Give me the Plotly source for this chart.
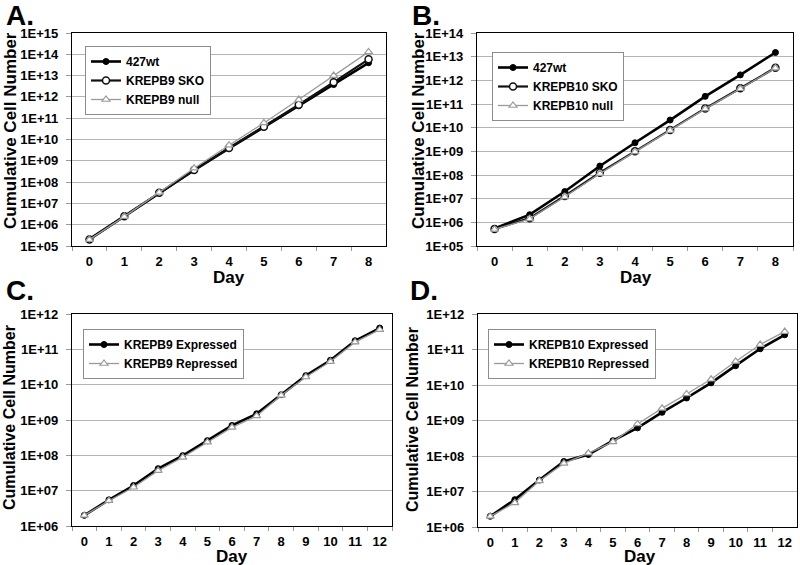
import plotly.graph_objects as go

# ---------------- data ----------------
days_8 = [str(d) for d in range(9)]
days_12 = [str(d) for d in range(13)]

A_wt = [2.1e5, 2.5e6, 3.2e7, 3.6e8, 3.8e9, 3.8e10, 3.8e11, 3.8e12, 4.0e13]
A_sko = [2.0e5, 2.5e6, 3.2e7, 3.7e8, 4.0e9, 4.0e10, 4.3e11, 4.9e12, 5.8e13]
A_null = [2.0e5, 2.4e6, 3.3e7, 4.5e8, 5.4e9, 6.0e10, 7.5e11, 1.0e13, 1.3e14]

B_wt = [5.5e5, 2.1e6, 2.0e7, 2.4e8, 2.3e9, 2.1e10, 2.1e11, 1.7e12, 1.5e13]
B_sko = [5.2e5, 1.5e6, 1.3e7, 1.25e8, 1.0e9, 8.0e9, 6.5e10, 4.6e11, 3.4e12]
B_null = [5.0e5, 1.4e6, 1.2e7, 1.15e8, 9.5e8, 7.6e9, 6.2e10, 4.4e11, 3.3e12]

C_exp = [2.0e6, 5.5e6, 1.4e7, 4.2e7, 9.8e7, 2.6e8, 7.0e8, 1.5e9, 5.2e9, 1.8e10, 4.9e10, 1.75e11, 4.0e11]
C_rep = [2.0e6, 5.2e6, 1.25e7, 3.7e7, 8.8e7, 2.35e8, 6.2e8, 1.3e9, 5.0e9, 1.65e10, 4.5e10, 1.6e11, 3.6e11]

D_exp = [2.0e6, 5.9e6, 2.1e7, 7.0e7, 1.1e8, 2.7e8, 6.2e8, 1.7e9, 4.3e9, 1.15e10, 3.5e10, 1.05e11, 2.6e11]
D_rep = [2.0e6, 4.8e6, 2.0e7, 6.2e7, 1.2e8, 2.5e8, 8.0e8, 2.2e9, 5.6e9, 1.45e10, 4.6e10, 1.38e11, 3.2e11]

A_exponents = list(range(5, 16))
B_exponents = list(range(5, 15))
CD_exponents = list(range(6, 13))

panel_letters = ["A.", "B.", "C.", "D."]
y_title = "Cumulative Cell Number"
x_title = "Day"

# ---------------- layout helpers ----------------
W, H = 800, 565
FONT = "Arial, Liberation Sans, sans-serif"


def px(x):
    return x / W


def py(y):
    return 1 - y / H


fig = go.Figure()

styles = {
    "wt": dict(line=dict(color="#000000", width=2.6),
               marker=dict(symbol="circle", size=6, color="#000000",
                           line=dict(color="#000000", width=1))),
    "sko": dict(line=dict(color="#111111", width=2.2),
                marker=dict(symbol="circle", size=7, color="#ffffff",
                            line=dict(color="#111111", width=1.5))),
    "null": dict(line=dict(color="#9a9a9a", width=1.3),
                 marker=dict(symbol="triangle-up", size=7, color="#ffffff",
                             line=dict(color="#9a9a9a", width=1.2))),
}

panels = [
    ("x", "y", "legend", (72, 386, 33, 246), days_8, A_exponents,
     [("427wt", A_wt, "wt"), ("KREPB9 SKO", A_sko, "sko"), ("KREPB9 null", A_null, "null")],
     (85, 46)),
    ("x2", "y2", "legend2", (477, 793, 33, 246), days_8, B_exponents,
     [("427wt", B_wt, "wt"), ("KREPB10 SKO", B_sko, "sko"), ("KREPB10 null", B_null, "null")],
     (492, 52)),
    ("x3", "y3", "legend3", (72, 392, 314, 526), days_12, CD_exponents,
     [("KREPB9 Expressed", C_exp, "wt"), ("KREPB9 Repressed", C_rep, "null")],
     (83, 329)),
    ("x4", "y4", "legend4", (478, 797, 314, 527), days_12, CD_exponents,
     [("KREPB10 Expressed", D_exp, "wt"), ("KREPB10 Repressed", D_rep, "null")],
     (488, 329)),
]

layout = dict(
    width=W, height=H,
    margin=dict(l=0, r=0, t=0, b=0, autoexpand=False),
    paper_bgcolor="white", plot_bgcolor="white",
    font=dict(family=FONT, size=13, color="#000000", weight="bold"),
    showlegend=True,
    annotations=[],
)

letter_pos = [(4, 33), (410, 33), (4, 308), (408, 308)]
ytitle_pos = [(10, 131), (418, 131), (9, 418), (412, 420)]
xtitle_pos = [(229, 277), (636, 277), (232, 556), (640, 556)]
ytitle_size = [17, 17, 16, 16]

for i, (xa, ya, lg, box, days, exps, traces, lbox) in enumerate(panels):
    x0, x1, y0, y1 = box
    for name, vals, st in traces:
        fig.add_trace(go.Scatter(
            x=days, y=vals, name=name, mode="lines+markers",
            xaxis=xa, yaxis=ya, legend=lg, **styles[st]))
    xkey = "xaxis" if xa == "x" else "xaxis" + xa[1:]
    ykey = "yaxis" if ya == "y" else "yaxis" + ya[1:]
    layout[xkey] = dict(
        domain=[px(x0), px(x1)], anchor=ya, type="category",
        categoryorder="array", categoryarray=days,
        range=[-0.5, len(days) - 0.5], automargin=False,
        tickson="boundaries", ticks="outside", ticklen=4, tickcolor="#9a9a9a",
        ticklabelstandoff=3,
        showgrid=False, showline=True, linecolor="#000000", linewidth=1.3,
        mirror=True, zeroline=False,
        tickfont=dict(family=FONT, size=13, weight="bold"),
    )
    layout[ykey] = dict(
        domain=[py(y1), py(y0)], anchor=xa, type="log",
        range=[exps[0], exps[-1]], automargin=False,
        tickvals=[10 ** e for e in exps],
        ticktext=["1E+%02d" % e for e in exps],
        ticks="outside", ticklen=5, tickcolor="#9a9a9a",
        ticklabelstandoff=5,
        showgrid=True, gridcolor="#b4b4b4", gridwidth=1,
        showline=True, linecolor="#000000", linewidth=1.3, mirror=True,
        zeroline=False,
        tickfont=dict(family=FONT, size=13, weight="bold"),
    )
    layout[lg] = dict(
        x=px(lbox[0]), y=py(lbox[1]), xanchor="left", yanchor="top",
        bgcolor="white", bordercolor="#8c8c8c", borderwidth=1,
        font=dict(family=FONT, size=12, weight="bold"),
        itemwidth=30, tracegroupgap=0,
    )
    lx, ly = letter_pos[i]
    layout["annotations"].append(dict(
        text=panel_letters[i], x=px(lx), y=py(ly), xref="paper", yref="paper",
        xanchor="left", yanchor="bottom", showarrow=False,
        font=dict(family=FONT, size=28, weight="bold")))
    tx, ty = ytitle_pos[i]
    layout["annotations"].append(dict(
        text=y_title, x=px(tx), y=py(ty), xref="paper", yref="paper",
        xanchor="center", yanchor="middle", textangle=-90, showarrow=False,
        font=dict(family=FONT, size=ytitle_size[i], weight="bold")))
    dx, dy = xtitle_pos[i]
    layout["annotations"].append(dict(
        text=x_title, x=px(dx), y=py(dy), xref="paper", yref="paper",
        xanchor="center", yanchor="middle", showarrow=False,
        font=dict(family=FONT, size=17, weight="bold")))

fig.update_layout(**layout)
fig.write_html(
    "out.html",
    config={"displayModeBar": False},
    post_script="document.body.style.margin='0';document.body.style.overflow='hidden';",
)
